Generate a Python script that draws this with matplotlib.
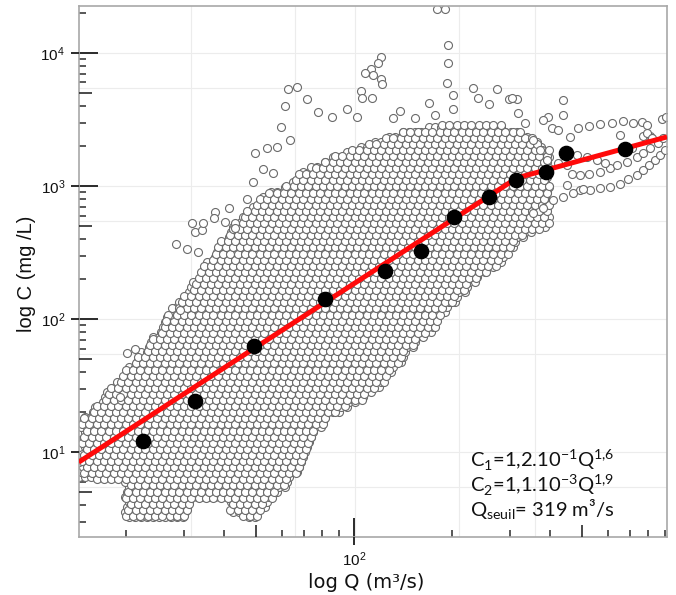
import numpy as np
import matplotlib
matplotlib.use("Agg")
import matplotlib.pyplot as plt
from matplotlib.ticker import LogLocator, NullFormatter, FixedLocator

# envelope of the dense cloud of samples (Q in m3/s, C in mg/L)
env_q = [14.3, 16.6, 19.6, 19.8, 23.7, 27.3, 30.7, 31.4, 36.2, 40.8, 41.7, 50.4, 55.3,
         60.6, 66.9, 77.0, 84.4, 97.2, 106.6, 120.2, 135.5, 156.1, 171.1, 197.0,
         222.2, 248.7, 280.5, 316.2, 346.7, 399.2]
env_top = [16.5, 24.6, 40.0, 41.4, 69.5, 117, 165, 180, 303, 451, 483, 785, 902,
           1000, 1210, 1490, 1625, 1930, 2035, 2220, 2500, 2730, 2825, 2925,
           2980, 3030, 2875, 2635, 2415, 1865]
env_bot = [6.38, 6.15, 5.95, 3.24, 3.24, 3.24, 3.24, 4.36, 4.36, 4.36, 3.47, 3.08, 4.36,
           5.17, 7.08, 13.9, 18.3, 22.5, 24.6, 30.8, 43.6, 66.0, 78.5, 123,
           165, 214, 264, 373, 428, 510]

# scattered samples outside the dense part
out_q = [179.8, 190.1, 194.2, 194.2, 192.9, 201.2, 121.0, 118.5, 112.8, 108.1, 114.4, 121.0,
         121.9, 62.8, 66.9, 71.7, 61.4, 105.1, 105.8, 113.6, 77.6, 85.6, 95.2, 102.1,
         59.7, 49.7, 54.1, 58.0, 63.6, 231.7, 274.6, 240.1, 259.5, 298.9, 316.2, 169.9,
         201.2, 177.2, 131.7, 138.4, 153.9, 437.7, 437.7, 393.8, 380.1, 486.6, 526.0,
         568.4, 618.7, 668.7, 717.5, 764.6, 792.1, 880.8, 906.0, 654.6, 770.0, 809.1,
         459.8, 404.9, 422.5, 28.4, 30.7, 32.5, 34.2, 37.5, 41.4, 37.2, 40.2, 43.2,
         47.0, 49.0, 52.6, 56.4, 33.2, 26.9, 29.3, 26.5, 20.1, 21.3, 19.2, 31.8, 34.4,
         466.4, 493.5, 526.0, 568.4, 610.1, 640.9, 687.8, 738.1, 770.0, 809.1, 855.9,
         886.8, 450.2, 493.5, 529.7, 568.4, 610.1, 654.6, 692.7, 738.1, 770.0, 803.4,
         838.2, 868.5, 899.6, 354.1, 380.1, 407.7, 437.7, 469.7, 504.2, 556.5, 588.8,
         712.5, 792.1, 820.6, 483.1, 518.5, 450.2, 372.1, 354.1, 334.6, 318.5, 305.3,
         390.9, 422.5]
out_c = [21500, 21430, 11480, 8410, 5960, 4830, 9330, 8410, 7590, 7080, 6840, 6380,
         5850, 5360, 5550, 4510, 4000, 5180, 4590, 4590, 3600, 3300, 3800, 3300,
         2780, 1770, 1930, 1965, 2220, 5460, 5360, 4590, 4140, 4510, 4510, 4210,
         3800, 3420, 3245, 3660, 3245, 4435, 3420, 3300, 3135, 2730, 2825,
         2925, 2980, 3085, 2980, 3030, 2875, 3190, 3300, 2415, 2375, 2375,
         2335, 2730, 2635, 366, 336, 451, 467, 638, 684, 575, 536, 483,
         798, 1072, 1343, 1253, 319, 107, 117, 96.6, 55.5, 59.4, 25.9, 527, 527,
         1231, 1210, 1231, 1275, 1365, 1440, 1515, 1652, 1770, 1930, 2105,
         2295, 1018, 934, 934, 967, 984, 1036, 1130, 1210, 1320, 1440,
         1570, 1712, 1865, 627, 684, 785, 827, 886, 949, 1570, 1490,
         1930, 2500, 2295, 1712, 1652, 1440, 1865, 2220, 2980, 3540, 4590,
         1570, 1490]

# mean values per discharge class
mean_q = [22.5, 32.5, 49.4, 81.5, 124, 160, 203, 259, 314, 388, 447, 678]
mean_c = [12.1, 24.2, 62.7, 141, 230, 324, 585, 826, 1110, 1275, 1770, 1900]

# broken power law fit
fit_q = [14.3, 316, 912]
fit_c = [8.4, 1150, 2340]

grid_q = [31.6, 66, 101, 210, 359]
grid_c = [5.5, 10, 55, 100, 550, 1000, 5500, 10000]

eq_lines = [r"C$_\mathdefault{1}$=1,2.10$^\mathdefault{-1}$Q$^\mathdefault{1{,}6}$",
            r"C$_\mathdefault{2}$=1,1.10$^\mathdefault{-3}$Q$^\mathdefault{1{,}9}$",
            r"Q$_\mathdefault{seuil}$= 319 m³/s"]

xlim = (14.33, 912)
ylim = (2.3, 22540)


def fill_envelope(step_px_x, step_px_y, shift):
    # packed rows of circles inside the envelope, spacing given in pixels
    lq_env = np.log10(env_q)
    lo_env = np.log10(env_bot)
    hi_env = np.log10(env_top)
    sx = step_px_x / 326.0
    sy = step_px_y / 133.0
    qs, cs = [], []
    row = 0
    for yy in np.arange(np.log10(ylim[0]) + shift * sy, np.log10(ylim[1]), sy):
        x0 = lq_env[0] + ((row % 3) / 3.0 + shift) * sx
        for xx in np.arange(x0, lq_env[-1], sx):
            lo = np.interp(xx, lq_env, lo_env)
            hi = np.interp(xx, lq_env, hi_env)
            if lo <= yy <= hi:
                qs.append(10 ** xx)
                cs.append(10 ** yy)
        row += 1
    return qs, cs


cloud_q, cloud_c = fill_envelope(6.0, 5.0, 0.0)
cloud2_q, cloud2_c = fill_envelope(7.3, 6.1, 0.45)

fig = plt.figure(figsize=(6.76, 5.95), dpi=100)
ax = fig.add_axes([79 / 676, 58 / 595, 588 / 676, 531 / 595])
ax.set_xscale("log")
ax.set_yscale("log")
ax.set_xlim(xlim)
ax.set_ylim(ylim)

for g in grid_q:
    ax.axvline(g, color="#ececec", lw=0.8, zorder=0)
for g in grid_c:
    ax.axhline(g, color="#ececec", lw=0.8, zorder=0)

pt = dict(s=33, facecolor="white", edgecolor="#6a6a6a", linewidths=0.8, zorder=2)
ax.scatter(cloud_q, cloud_c, **pt)
ax.scatter(cloud2_q, cloud2_c, **pt)
ax.scatter(out_q, out_c, **pt)
ax.plot(fit_q, fit_c, color="#ff0a0a", lw=3.6, zorder=3, solid_capstyle="butt")
ax.scatter(mean_q, mean_c, s=105, color="black", zorder=4)

for sp in ax.spines.values():
    sp.set_color("#a8a8a8")
    sp.set_linewidth(1.2)

ax.xaxis.set_major_locator(FixedLocator([100]))
ax.yaxis.set_major_locator(FixedLocator([10, 100, 1000, 10000]))
ax.xaxis.set_minor_locator(LogLocator(base=10, subs=[2, 3, 4, 6, 7, 8, 9], numticks=20))
ax.yaxis.set_minor_locator(LogLocator(base=10, subs=[2, 3, 4, 6, 7, 8, 9], numticks=20))
ax.xaxis.set_minor_formatter(NullFormatter())
ax.yaxis.set_minor_formatter(NullFormatter())
ax.tick_params(which="major", direction="in", length=14, width=1.4, color="#2a2a2a",
               labelsize=11, labelfontfamily="Liberation Sans", labelcolor="#111")
ax.tick_params(axis="y", which="major", pad=10)
ax.tick_params(axis="x", which="major", pad=10)
ax.tick_params(which="minor", direction="in", length=5, width=1.1, color="#2a2a2a")

# second layer for the half-decade ticks and the outer part of the decade ticks
ax2 = fig.add_axes(ax.get_position())
ax2.set_xscale("log")
ax2.set_yscale("log")
ax2.set_xlim(xlim)
ax2.set_ylim(ylim)
ax2.patch.set_visible(False)
for sp in ax2.spines.values():
    sp.set_visible(False)
ax2.xaxis.set_major_locator(FixedLocator([50, 500]))
ax2.yaxis.set_major_locator(FixedLocator([5, 50, 500, 5000]))
ax2.xaxis.set_minor_locator(FixedLocator([100]))
ax2.yaxis.set_minor_locator(FixedLocator([10, 100, 1000, 10000]))
ax2.tick_params(which="major", direction="in", length=9, width=1.2, color="#2a2a2a",
                labelbottom=False, labelleft=False)
ax2.tick_params(which="minor", direction="out", length=6, width=1.4, color="#2a2a2a")
ax2.xaxis.set_minor_formatter(NullFormatter())
ax2.yaxis.set_minor_formatter(NullFormatter())

fig.text(26 / 676, 1 - 274 / 595, "log C (mg /L)", rotation=90, ha="center", va="center",
         fontsize=14.5, family="Liberation Sans", color="#111")
fig.text(366 / 676, 1 - 582 / 595, "log Q (m³/s)", ha="center", va="center",
         fontsize=14, family="DejaVu Sans", color="#111")

for i, t in enumerate(eq_lines):
    fig.text(470 / 676, 1 - (460 + 25 * i) / 595, t, ha="left", va="center",
             fontsize=14.5, family="Lato", color="#111")

fig.savefig("out.png", dpi=100)
